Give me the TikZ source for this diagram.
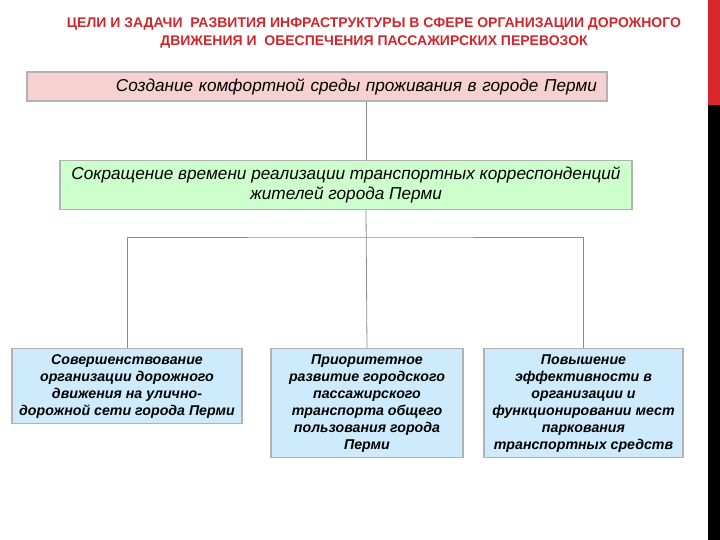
\documentclass[tikz,border=0pt]{standalone}
\usepackage{fontspec}
\setmainfont{Liberation Sans}
\usepackage{xcolor}
\usetikzlibrary{positioning,calc}
\definecolor{titlered}{HTML}{D0262C}
\definecolor{barred}{HTML}{D9272E}
\definecolor{linegray}{HTML}{8C8C8C}
\definecolor{pinkbg}{HTML}{F7D0D0}
\definecolor{greenbg}{HTML}{CCFFCC}
\definecolor{bluebg}{HTML}{CDEBFC}

\begin{document}
\begin{tikzpicture}[
  x=1pt, y=-1pt,
  goalbox/.style={
    draw=gray!60, line width=1.3pt, fill=pinkbg,
    text width=560pt, inner xsep=10pt, align=right,
    minimum height=29pt,
    font=\fontsize{17.2}{19}\selectfont\itshape
  },
  aimbox/.style={
    draw=gray!60, line width=1.3pt, fill=greenbg,
    minimum width=572pt, minimum height=49pt, align=center,
    font=\fontsize{17.2}{20}\selectfont\itshape
  },
  taskbox/.style={
    draw=gray!60, line width=1.3pt, fill=bluebg, anchor=north,
    align=center, inner sep=1pt,
    font=\fontsize{14.2}{17}\selectfont\bfseries\itshape
  },
  link/.style={linegray, line width=0.8pt}
]
  \useasboundingbox (0,0) rectangle (720,540);
  % side bar
  \fill[barred] (708,0) rectangle (720,105);
  \fill[black] (708,105) rectangle (720,540);

  \node[font=\fontsize{14}{18}\selectfont\bfseries, text=titlered, align=center]
    (title) at (374,33) {ЦЕЛИ И ЗАДАЧИ\ \ РАЗВИТИЯ ИНФРАСТРУКТУРЫ В СФЕРЕ ОРГАНИЗАЦИИ ДОРОЖНОГО\\
    ДВИЖЕНИЯ И\ \ ОБЕСПЕЧЕНИЯ ПАССАЖИРСКИХ ПЕРЕВОЗОК};

  \node[goalbox] (goal) at (317,86.5) {Создание комфортной среды проживания в городе Перми};
  \node[aimbox] (aim) at (346,185) {Сокращение времени реализации транспортных корреспонденций\\жителей города Перми};

  \node[taskbox, minimum width=230pt, minimum height=75pt] (task1) at (127,348)
    {Совершенствование\\организации дорожного\\движения на улично-\\дорожной сети города Перми};
  \node[taskbox, minimum width=192pt, minimum height=109pt] (task2) at (367,348)
    {Приоритетное\\развитие городского\\пассажирского\\транспорта общего\\пользования города\\Перми};
  \node[taskbox, minimum width=199pt, minimum height=109pt] (task3) at (583.5,348)
    {Повышение\\эффективности в\\организации и\\функционировании мест\\паркования\\транспортных средств};

  \coordinate (bus) at (366,237);
  \draw[link] (goal.south -| bus) -- (aim.north -| bus);
  \draw[link] (aim.south -| bus) -- (task2.north);
  \draw[link] (task1.north) |- (bus) -| (task3.north);
\end{tikzpicture}
\end{document}
